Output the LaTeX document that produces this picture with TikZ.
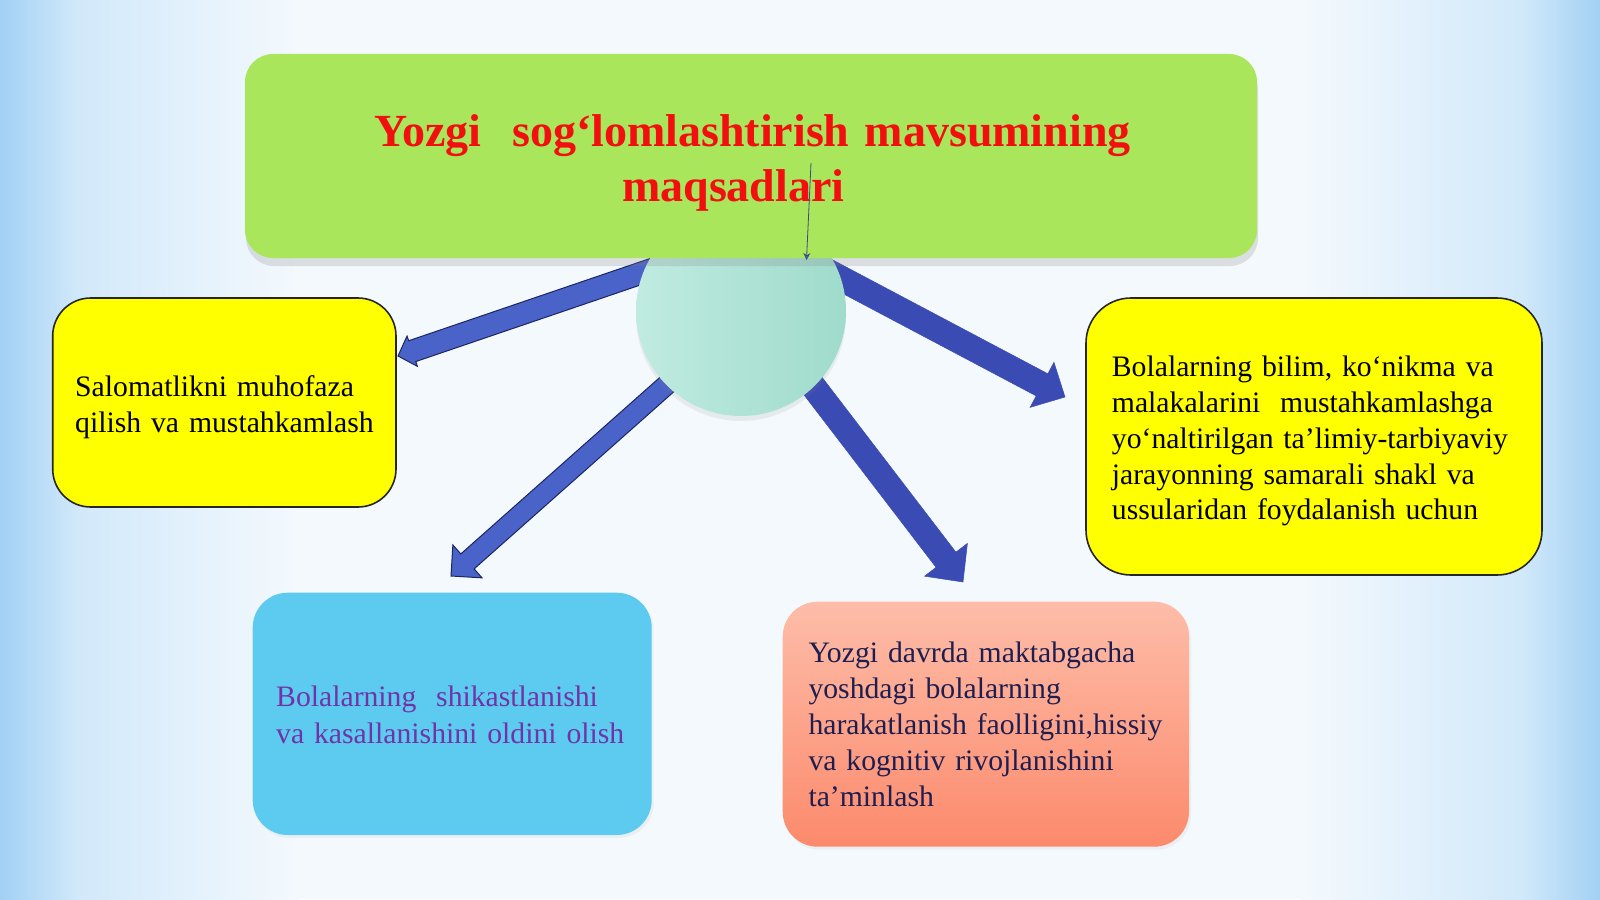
\documentclass[tikz,border=0pt]{standalone}
\usepackage{fontspec}
\setmainfont{Liberation Serif}
\usetikzlibrary{calc,arrows.meta,shadows}
\definecolor{bgA}{HTML}{A2D1F4}
\definecolor{bgB}{HTML}{D2E9FA}
\definecolor{bgC}{HTML}{F4F9FD}
\definecolor{greenbox}{HTML}{A9E65B}
\definecolor{titlered}{HTML}{F20F0F}
\definecolor{mintL}{HTML}{C0EBE1}
\definecolor{mintR}{HTML}{9FDBCB}
\definecolor{arrL}{HTML}{4A63C9}
\definecolor{arrLine}{HTML}{1C2560}
\definecolor{arrR}{HTML}{3A4CB4}
\definecolor{yel}{HTML}{FFFF00}
\definecolor{skyb}{HTML}{5DCBF0}
\definecolor{salT}{HTML}{FDBDA9}
\definecolor{salB}{HTML}{FC8A6C}
\definecolor{purp}{HTML}{7034A8}
\definecolor{navy}{HTML}{1E1E50}
\definecolor{thinc}{HTML}{3C4B80}
\newcommand\blockarrow[6]{%
  \path (#2) coordinate (bas) (#3) coordinate (bat);
  \path ($(bat)!#6!(bas)$) coordinate (bab);
  \filldraw[#1] ($(bas)!#4!90:(bat)$) -- ($(bab)!#4!90:(bat)$) -- ($(bab)!#5!90:(bat)$)
    -- (bat) -- ($(bab)!#5!-90:(bat)$) -- ($(bab)!#4!-90:(bat)$) -- ($(bas)!#4!-90:(bat)$) -- cycle;
}
\begin{document}
\begin{tikzpicture}[x=1pt,y=-1pt,
  leftarrow/.style={fill=arrL,draw=arrLine,line width=1pt,line join=miter},
  rightarrow/.style={fill=arrR,draw=arrR,line width=0.5pt,line join=miter},
  ybox/.style={fill=yel,draw=black!85,line width=1.6pt,inner sep=0pt,outer sep=0pt},
  txt/.style={font=\fontsize{29.7}{36}\selectfont,align=left,inner sep=0pt,anchor=base west,text width=600pt},
  thinln/.style={draw=thinc,line width=0.8pt,-{Stealth[length=7pt,width=7pt,fill=arrL]}}
]
\useasboundingbox (0,0) rectangle (1600,899);
% background
\fill[bgC] (0,0) rectangle (1600,899);
\shade[left color=bgA,right color=bgB] (0,0) rectangle (80,899);
\shade[left color=bgB,right color=bgC] (80,0) rectangle (300,899);
\shade[left color=bgC,right color=bgB] (1300,0) rectangle (1520,899);
\shade[left color=bgB,right color=bgA] (1520,0) rectangle (1600,899);
% arrow coordinates
\coordinate (s1) at (665,265);
\coordinate (t1) at (398,356);
\coordinate (s2) at (825,270);
\coordinate (t2) at (1065,397);
\coordinate (s3) at (681,372);
\coordinate (t3) at (451,576);
\coordinate (s4) at (803,373);
\coordinate (t4) at (963,582);
\blockarrow{leftarrow}{s1}{t1}{11pt}{16pt}{15pt}
\blockarrow{leftarrow}{s3}{t3}{10pt}{22pt}{22pt}
\blockarrow{rightarrow}{s2}{t2}{12.5pt}{25.5pt}{26pt}
\blockarrow{rightarrow}{s4}{t4}{12.5pt}{27pt}{28pt}
% hub circle
\node[circle,minimum size=210pt,inner sep=0pt,left color=mintL,right color=mintR,
  drop shadow={opacity=0.12,shadow xshift=0pt,shadow yshift=-5pt}] (hub) at (741,311) {};
% title box
\node[fill=greenbox,rounded corners=28pt,minimum width=1012pt,minimum height=204pt,inner sep=0pt,
  drop shadow={opacity=0.22,shadow xshift=1pt,shadow yshift=-8pt}] (head) at (751,156) {};
\node[anchor=base west,text width=900pt,align=left,inner sep=0pt,text=titlered,
  font=\fontsize{46}{55}\selectfont\bfseries] (title) at (374,146.7)
  {Yozgi\ \ sog‘lomlashtirish mavsumining\\\hspace*{248pt}maqsadlari};
\coordinate (lnA) at (811,163);
\coordinate (lnB) at (806.5,260);
\draw[thinln] (lnA) -- (lnB);
% boxes
\node[ybox,rounded corners=38pt,minimum width=343.3pt,minimum height=209pt] (boxL) at (224.35,402.5) {};
\node[ybox,rounded corners=45pt,minimum width=456pt,minimum height=277pt] (boxR) at (1314,436.5) {};
\node[fill=skyb,rounded corners=35pt,minimum width=399pt,minimum height=242.3pt,inner sep=0pt,
  drop shadow={opacity=0.08,shadow xshift=2pt,shadow yshift=-3pt}] (boxB) at (452.2,713.85) {};
\node[top color=salT,bottom color=salB,rounded corners=35pt,minimum width=406.3pt,minimum height=245pt,inner sep=0pt,
  drop shadow={opacity=0.08,shadow xshift=2pt,shadow yshift=-3pt}] (boxS) at (985.85,724.2) {};
% texts
\node[txt,text=black] (tL) at (75,396.7) {Salomatlikni muhofaza\\qilish va mustahkamlash};
\node[txt,text=black,font=\fontsize{29.7}{35.8}\selectfont] (tR) at (1111.7,376.7)
  {Bolalarning bilim, ko‘nikma va\\malakalarini\ \ mustahkamlashga\\yo‘naltirilgan ta’limiy-tarbiyaviy\\jarayonning samarali shakl va\\ussularidan foydalanish uchun};
\node[txt,text=purp,font=\fontsize{29.7}{36.6}\selectfont] (tB) at (276,706.7)
  {Bolalarning\ \ shikastlanishi\\va kasallanishini oldini olish};
\node[txt,text=navy] (tS) at (808.3,662.7)
  {Yozgi davrda maktabgacha\\yoshdagi bolalarning\\harakatlanish faolligini,hissiy\\va kognitiv rivojlanishini\\ta’minlash};
\end{tikzpicture}
\end{document}
